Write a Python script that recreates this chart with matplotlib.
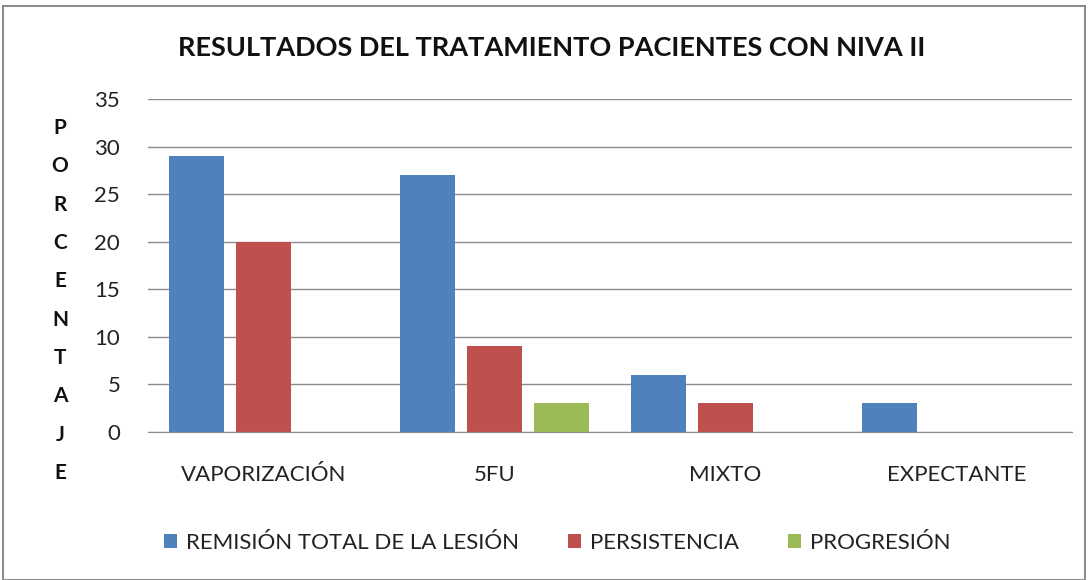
import matplotlib
matplotlib.use("Agg")
import matplotlib.pyplot as plt
from matplotlib.patches import Rectangle
import numpy as np

categories = ["VAPORIZACIÓN", "5FU", "MIXTO", "EXPECTANTE"]
series_names = ["REMISIÓN TOTAL DE LA LESIÓN", "PERSISTENCIA", "PROGRESIÓN"]
remision = [29, 27, 6, 3]
persistencia = [20, 9, 3, 0]
progresion = [0, 3, 0, 0]
colors = ["#4F81BD", "#C0504D", "#9BBB59"]
yticks = [0, 5, 10, 15, 20, 25, 30, 35]
ylabel_text = "PORCENTAJE"

plt.rcParams['font.family'] = ['Lato', 'DejaVu Sans']

fig = plt.figure(figsize=(10.88, 5.80), dpi=100)
ax = fig.add_axes([148/1088, 1-432/580, (1072-148)/1088, (432-99)/580])

x = np.arange(len(categories))
w = 0.234
off = 0.29
data = [remision, persistencia, progresion]
for i, (vals, name, c) in enumerate(zip(data, series_names, colors)):
    ax.bar(x + (i-1)*off, vals, width=w, color=c, label=name, zorder=3)

ax.set_xlim(-0.5, len(categories)-0.5)
ax.set_ylim(0, 35)
ax.set_yticks(yticks)
ax.set_xticks(x)
ax.set_xticklabels(categories, fontsize=16, color="#222222")
ax.tick_params(axis='y', length=0, pad=20, labelsize=16, labelcolor="#222222")
ax.tick_params(axis='x', length=0, pad=24)
ax.grid(axis='y', color="#8c8c8c", linewidth=1, zorder=0)
for s in ["top", "right", "left"]:
    ax.spines[s].set_visible(False)
ax.spines["bottom"].set_color("#8c8c8c")
ax.spines["bottom"].set_zorder(4)

fig.text(552/1088, 1-48/580, "RESULTADOS DEL TRATAMIENTO PACIENTES CON NIVA II",
         ha="center", va="center", fontsize=19.5, fontweight="bold", color="#111111")

for k, ch in enumerate(ylabel_text):
    ypix = 128 + k * (473-128)/(len(ylabel_text)-1)
    fig.text(60/1088, 1-ypix/580, ch, ha="center", va="center", fontsize=15, fontweight="bold", color="#111111")

leg = fig.legend(loc="center", bbox_to_anchor=(557/1088, 1-543/580), ncol=3, frameon=False,
                 fontsize=16, handlelength=0.6, handleheight=0.6, columnspacing=2.2, handletextpad=0.4)
for t in leg.get_texts():
    t.set_color("#222222")

fig.patches.append(Rectangle((3/1088, 0), 1-6/1088, 1-6/580, transform=fig.transFigure,
                             fill=False, edgecolor="#8c8c8c", linewidth=1.5))

fig.savefig("out.png", dpi=100, facecolor="white")
